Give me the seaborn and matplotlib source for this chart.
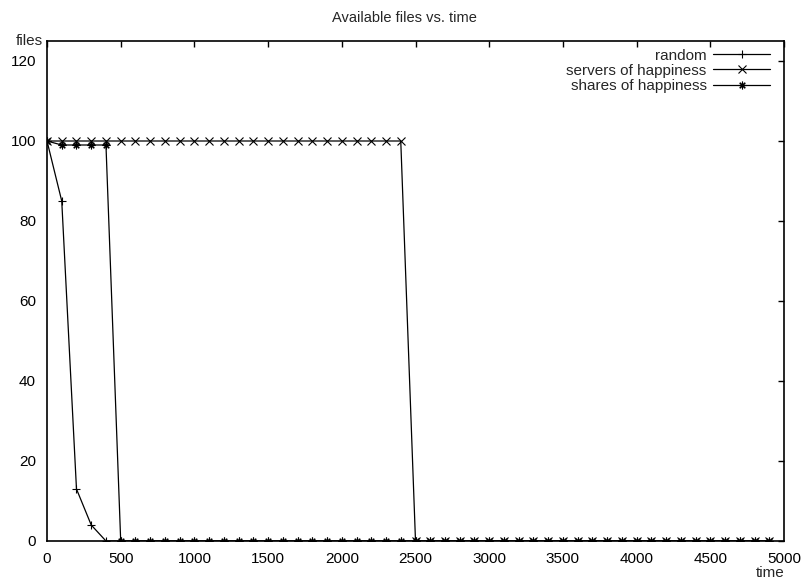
import numpy as np
import pandas as pd
import matplotlib
matplotlib.use("Agg")
import matplotlib.pyplot as plt
import matplotlib.transforms as mtransforms
import seaborn as sns

time = list(range(0, 5000, 100))
random_vals = [100, 85, 13, 4] + [0] * 46
servers_vals = [100] * 25 + [0] * 25
shares_vals = [100, 99, 99, 99, 99] + [0] * 45
series_names = ["random", "servers of happiness", "shares of happiness"]

df = pd.DataFrame({
    "time": time * 3,
    "files": random_vals + servers_vals + shares_vals,
    "series": [series_names[0]] * 50 + [series_names[1]] * 50 + [series_names[2]] * 50,
})

sns.set_style("white")
plt.rcParams["font.family"] = ["Liberation Sans", "DejaVu Sans"]
FS = 11

fig = plt.figure(figsize=(8.09, 5.8), dpi=100)
ax = fig.add_axes([47 / 809, 39 / 580, (784 - 47) / 809, (541 - 41) / 580])

markers = ["+", "x", (8, 2, 0)]
for name, mk in zip(series_names, markers):
    sub = df[df["series"] == name]
    sns.lineplot(data=sub, x="time", y="files", ax=ax, color="black",
                 linewidth=0.9, marker=mk, markersize=5.5, markeredgewidth=0.8,
                 markeredgecolor="black", label=name)

ax.set_xlim(0, 5000)
ax.set_ylim(0, 125)
ax.set_xticks(range(0, 5001, 500))
ax.set_yticks(range(0, 121, 20))
ax.tick_params(direction="in", length=4, width=1, top=True, right=True,
               labelsize=FS, colors="black")
ax.tick_params(axis="x", pad=8)
ax.tick_params(axis="y", pad=8)
for s in ax.spines.values():
    s.set_color("black")
    s.set_linewidth(1.2)
    s.set_visible(True)

ax.set_xlabel("")
ax.set_ylabel("")
off = mtransforms.ScaledTranslation(-4 / 100, 0, fig.dpi_scale_trans)
ax.text(0, 1.0, "files", transform=ax.transAxes + off, ha="right", va="center",
        fontsize=FS)
ax.text(785 / 809, 1 - 573 / 580, "time", transform=fig.transFigure, ha="right",
        va="center", fontsize=FS)
fig.text(0.5, 1 - 18 / 580, "Available files vs. time", ha="center", va="center",
         fontsize=10.5)

leg = ax.legend(loc="upper right", frameon=False, markerfirst=False,
                handlelength=3.7, fontsize=FS, labelspacing=0.08,
                borderaxespad=0.0, handletextpad=0.45, borderpad=0.0,
                bbox_to_anchor=(770 / 809, 1 - 48.5 / 580),
                bbox_transform=fig.transFigure)

fig.savefig("out.png", dpi=100)
